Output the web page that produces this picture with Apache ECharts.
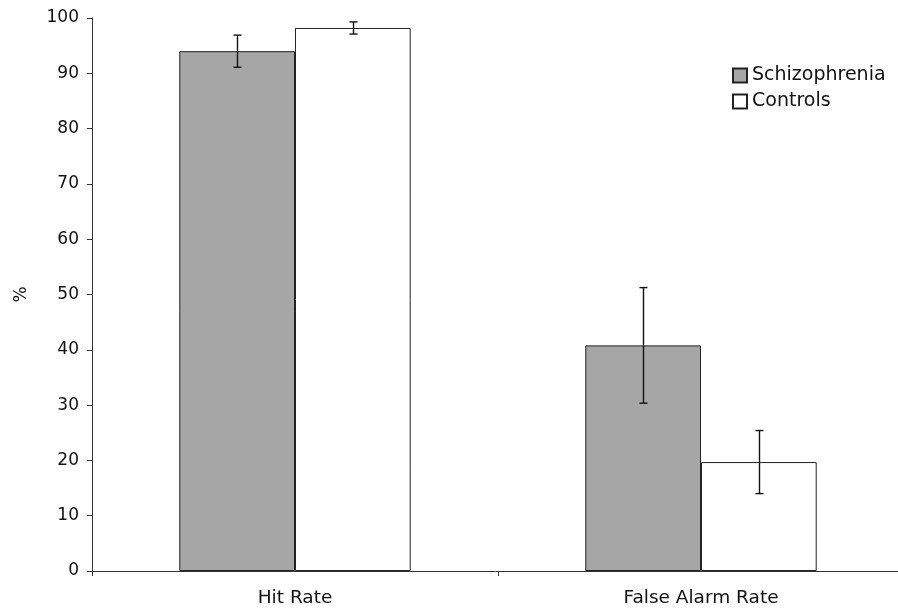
<!DOCTYPE html>
<html>
<head>
<meta charset="utf-8">
<script src="https://cdn.jsdelivr.net/npm/echarts@6/dist/echarts.min.js"></script>
<style>
  html, body { margin: 0; padding: 0; background: #fff; overflow: hidden; }
  #chart { width: 898px; height: 609px; }
</style>
</head>
<body>
<div id="chart"></div>
<script>
// Recognition task results: mean rates with error bars
const categories = ['Hit Rate', 'False Alarm Rate'];
const seriesNames = ['Schizophrenia', 'Controls'];
const schizMeans = [94.0, 40.8];
const schizErr = [2.9, 10.45];
const controlMeans = [98.2, 19.7];
const controlErr = [1.1, 5.7];
const yTicks = { min: 0, max: 100, interval: 10 };

const CAT_GAP = 0.43;           // fraction of each category band left empty
const FONT = 'DejaVu Sans, Verdana, sans-serif';

const chart = echarts.init(document.getElementById('chart'));

// Error bar renderer; offset = -1 for left bar, +1 for right bar
function errorBarSeries(name, means, errs, offset) {
  return {
    type: 'custom',
    name: name + ' error',
    z: 5,
    silent: true,
    data: means.map((m, i) => [i, m - errs[i], m + errs[i]]),
    renderItem: function (params, api) {
      const band = api.size([1, 0])[0];
      const barW = band * (1 - CAT_GAP) / 2;
      const lo = api.coord([api.value(0), api.value(1)]);
      const hi = api.coord([api.value(0), api.value(2)]);
      const x = Math.round(lo[0] + offset * barW / 2) + 0.5;
      const cap = 4;
      const style = { stroke: '#111', lineWidth: 1.4, fill: null };
      return {
        type: 'group',
        children: [
          { type: 'line', shape: { x1: x, y1: hi[1], x2: x, y2: lo[1] }, style: style },
          { type: 'line', shape: { x1: x - cap, y1: hi[1], x2: x + cap, y2: hi[1] }, style: style },
          { type: 'line', shape: { x1: x - cap, y1: lo[1], x2: x + cap, y2: lo[1] }, style: style }
        ]
      };
    }
  };
}

chart.setOption({
  animation: false,
  backgroundColor: '#fff',
  textStyle: { fontFamily: FONT },
  grid: { left: 92, width: 812, top: 18, bottom: 38, containLabel: false, outerBoundsMode: 'none' },
  legend: {
    data: seriesNames,
    orient: 'vertical',
    left: 732,
    top: 66,
    padding: 0,
    itemWidth: 14,
    itemHeight: 14,
    itemGap: 7,
    icon: 'rect',
    textStyle: { fontFamily: FONT, fontSize: 19, color: '#111' }
  },
  xAxis: {
    type: 'category',
    data: categories,
    axisLine: { lineStyle: { color: '#333', width: 1 } },
    axisTick: { show: true, alignWithLabel: false, length: 5, inside: false, lineStyle: { color: '#333' } },
    axisLabel: { fontFamily: FONT, fontSize: 18.5, color: '#111', margin: 18 }
  },
  yAxis: {
    type: 'value',
    min: yTicks.min,
    max: yTicks.max,
    interval: yTicks.interval,
    name: '%',
    nameLocation: 'middle',
    nameGap: 62,
    nameRotate: 90,
    nameTextStyle: { fontFamily: FONT, fontSize: 17, color: '#111' },
    axisLine: { show: true, lineStyle: { color: '#333', width: 1 } },
    axisTick: { show: true, length: 5, lineStyle: { color: '#333' } },
    axisLabel: { fontFamily: FONT, fontSize: 17, color: '#111', margin: 13 },
    splitLine: { show: false }
  },
  series: [
    {
      name: seriesNames[0],
      type: 'bar',
      data: schizMeans,
      barGap: '0%',
      barCategoryGap: (CAT_GAP * 100) + '%',
      itemStyle: { color: '#a6a6a6', borderColor: '#222', borderWidth: 1 }
    },
    {
      name: seriesNames[1],
      type: 'bar',
      data: controlMeans,
      barGap: '0%',
      barCategoryGap: (CAT_GAP * 100) + '%',
      itemStyle: { color: '#ffffff', borderColor: '#222', borderWidth: 1 }
    },
    errorBarSeries(seriesNames[0], schizMeans, schizErr, -1),
    errorBarSeries(seriesNames[1], controlMeans, controlErr, 1)
  ]
});
</script>
</body>
</html>
